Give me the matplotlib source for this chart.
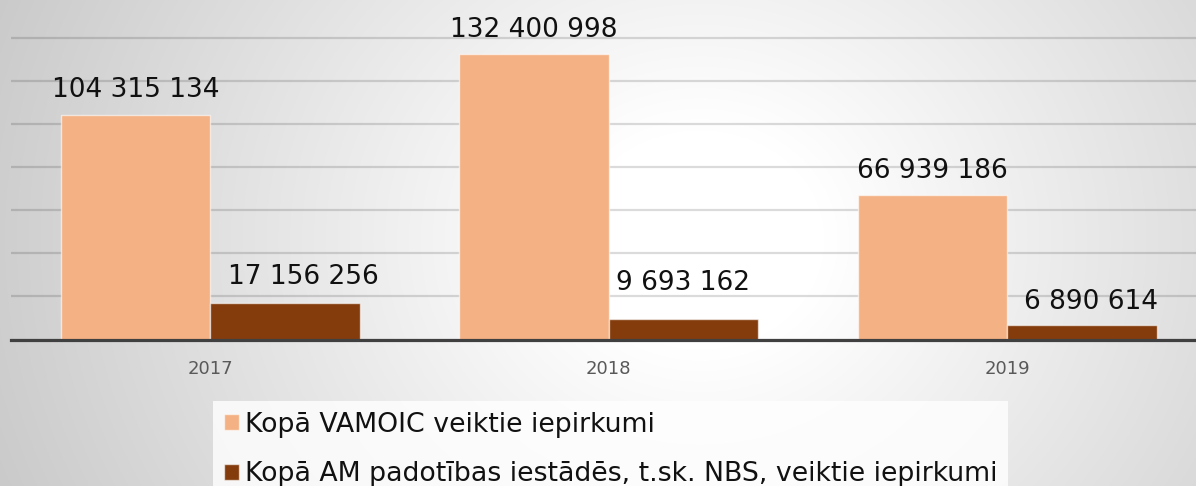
import numpy as np
import matplotlib
matplotlib.use("Agg")
import matplotlib.pyplot as plt
from matplotlib.patches import Patch

# ---- data ----
years = ["2017", "2018", "2019"]
series_names = ["Kopā VAMOIC veiktie iepirkumi",
                "Kopā AM padotības iestādēs, t.sk. NBS, veiktie iepirkumi"]
vamoic = [104315134, 132400998, 66939186]
am_nbs = [17156256, 9693162, 6890614]
colors = ["#F4B183", "#843C0C"]

# label offsets (points) for each series, as placed in the original
offsets_vamoic = [(0, 12.7), (0, 12.7), (0, 12.5)]
offsets_am = [(13.4, 13.2), (0, 20.6), (6.3, 11.3)]

W, H = 1196, 486
fig = plt.figure(figsize=(W / 100, H / 100), dpi=100)

# ---- radial gradient background ----
bg = fig.add_axes([0, 0, 1, 1], zorder=0)
yy, xx = np.mgrid[0:H, 0:W]
d = np.hypot((xx - 700) * 0.88, (yy - 240) * 1.0)
val = 1 - 0.21 * np.clip((d - 110) / 560, 0, 1.3)
img = np.dstack([val, val, val])
bg.imshow(img, extent=[0, W, H, 0], aspect="auto", interpolation="bilinear")
bg.set_axis_off()

# ---- main axes ----
ax_left = 11 / W
ax_w = (1206.5 - 11) / W
ax_bottom = (H - 339.5) / H
ax_h = 344.6 / H
ax = fig.add_axes([ax_left, ax_bottom, ax_w, ax_h], zorder=1)
ax.patch.set_alpha(0)

x = np.arange(len(years))
bw = 0.375
bars1 = ax.bar(x - bw / 2, vamoic, bw, color=colors[0],
               edgecolor=(1, 1, 1, 0.6), linewidth=1, zorder=3)
bars2 = ax.bar(x + bw / 2, am_nbs, bw, color=colors[1],
               edgecolor=(1, 1, 1, 0.6), linewidth=1, zorder=3)

ax.set_xlim(-0.5, 2.5)
ax.set_ylim(0, 160e6)
ax.set_yticks(np.arange(0, 160e6 + 1, 20e6))
ax.yaxis.grid(True, color="black", alpha=0.14, linewidth=1.6, zorder=0)
ax.set_axisbelow(True)
ax.tick_params(axis="y", left=False, labelleft=False)
ax.set_xticks(x)
ax.set_xticklabels(years, fontsize=13, color="#595959")
ax.tick_params(axis="x", length=0, pad=15)
for s in ["top", "right", "left"]:
    ax.spines[s].set_visible(False)
ax.spines["bottom"].set_color("#404040")
ax.spines["bottom"].set_linewidth(2.3)
ax.spines["bottom"].set_zorder(4)

def fmt(v):
    return f"{v:,}".replace(",", " ")

for bars, vals, offs in ((bars1, vamoic, offsets_vamoic),
                         (bars2, am_nbs, offsets_am)):
    for b, v, off in zip(bars, vals, offs):
        ax.annotate(fmt(v), (b.get_x() + b.get_width() / 2, v),
                    xytext=off, textcoords="offset points",
                    ha="center", va="baseline", fontsize=19, color="#111111",
                    zorder=5, annotation_clip=False)

handles = [Patch(facecolor=colors[0], edgecolor=(1, 1, 1, 0.6)),
           Patch(facecolor=colors[1], edgecolor=(1, 1, 1, 0.6))]
leg = fig.legend(handles, series_names, loc="upper left",
                 bbox_to_anchor=(213 / W, 1 - 401 / H),
                 bbox_transform=fig.transFigure, borderaxespad=0,
                 fontsize=19.3, frameon=True, fancybox=False, shadow=False,
                 handlelength=0.56, handleheight=0.56, handletextpad=0.22,
                 labelspacing=0.88, borderpad=0.4)
leg.get_frame().set_facecolor((1, 1, 1, 0.3))
leg.get_frame().set_edgecolor("none")
leg.set_zorder(6)
for t in leg.get_texts():
    t.set_color("#111111")

fig.savefig("out.png", dpi=100)
